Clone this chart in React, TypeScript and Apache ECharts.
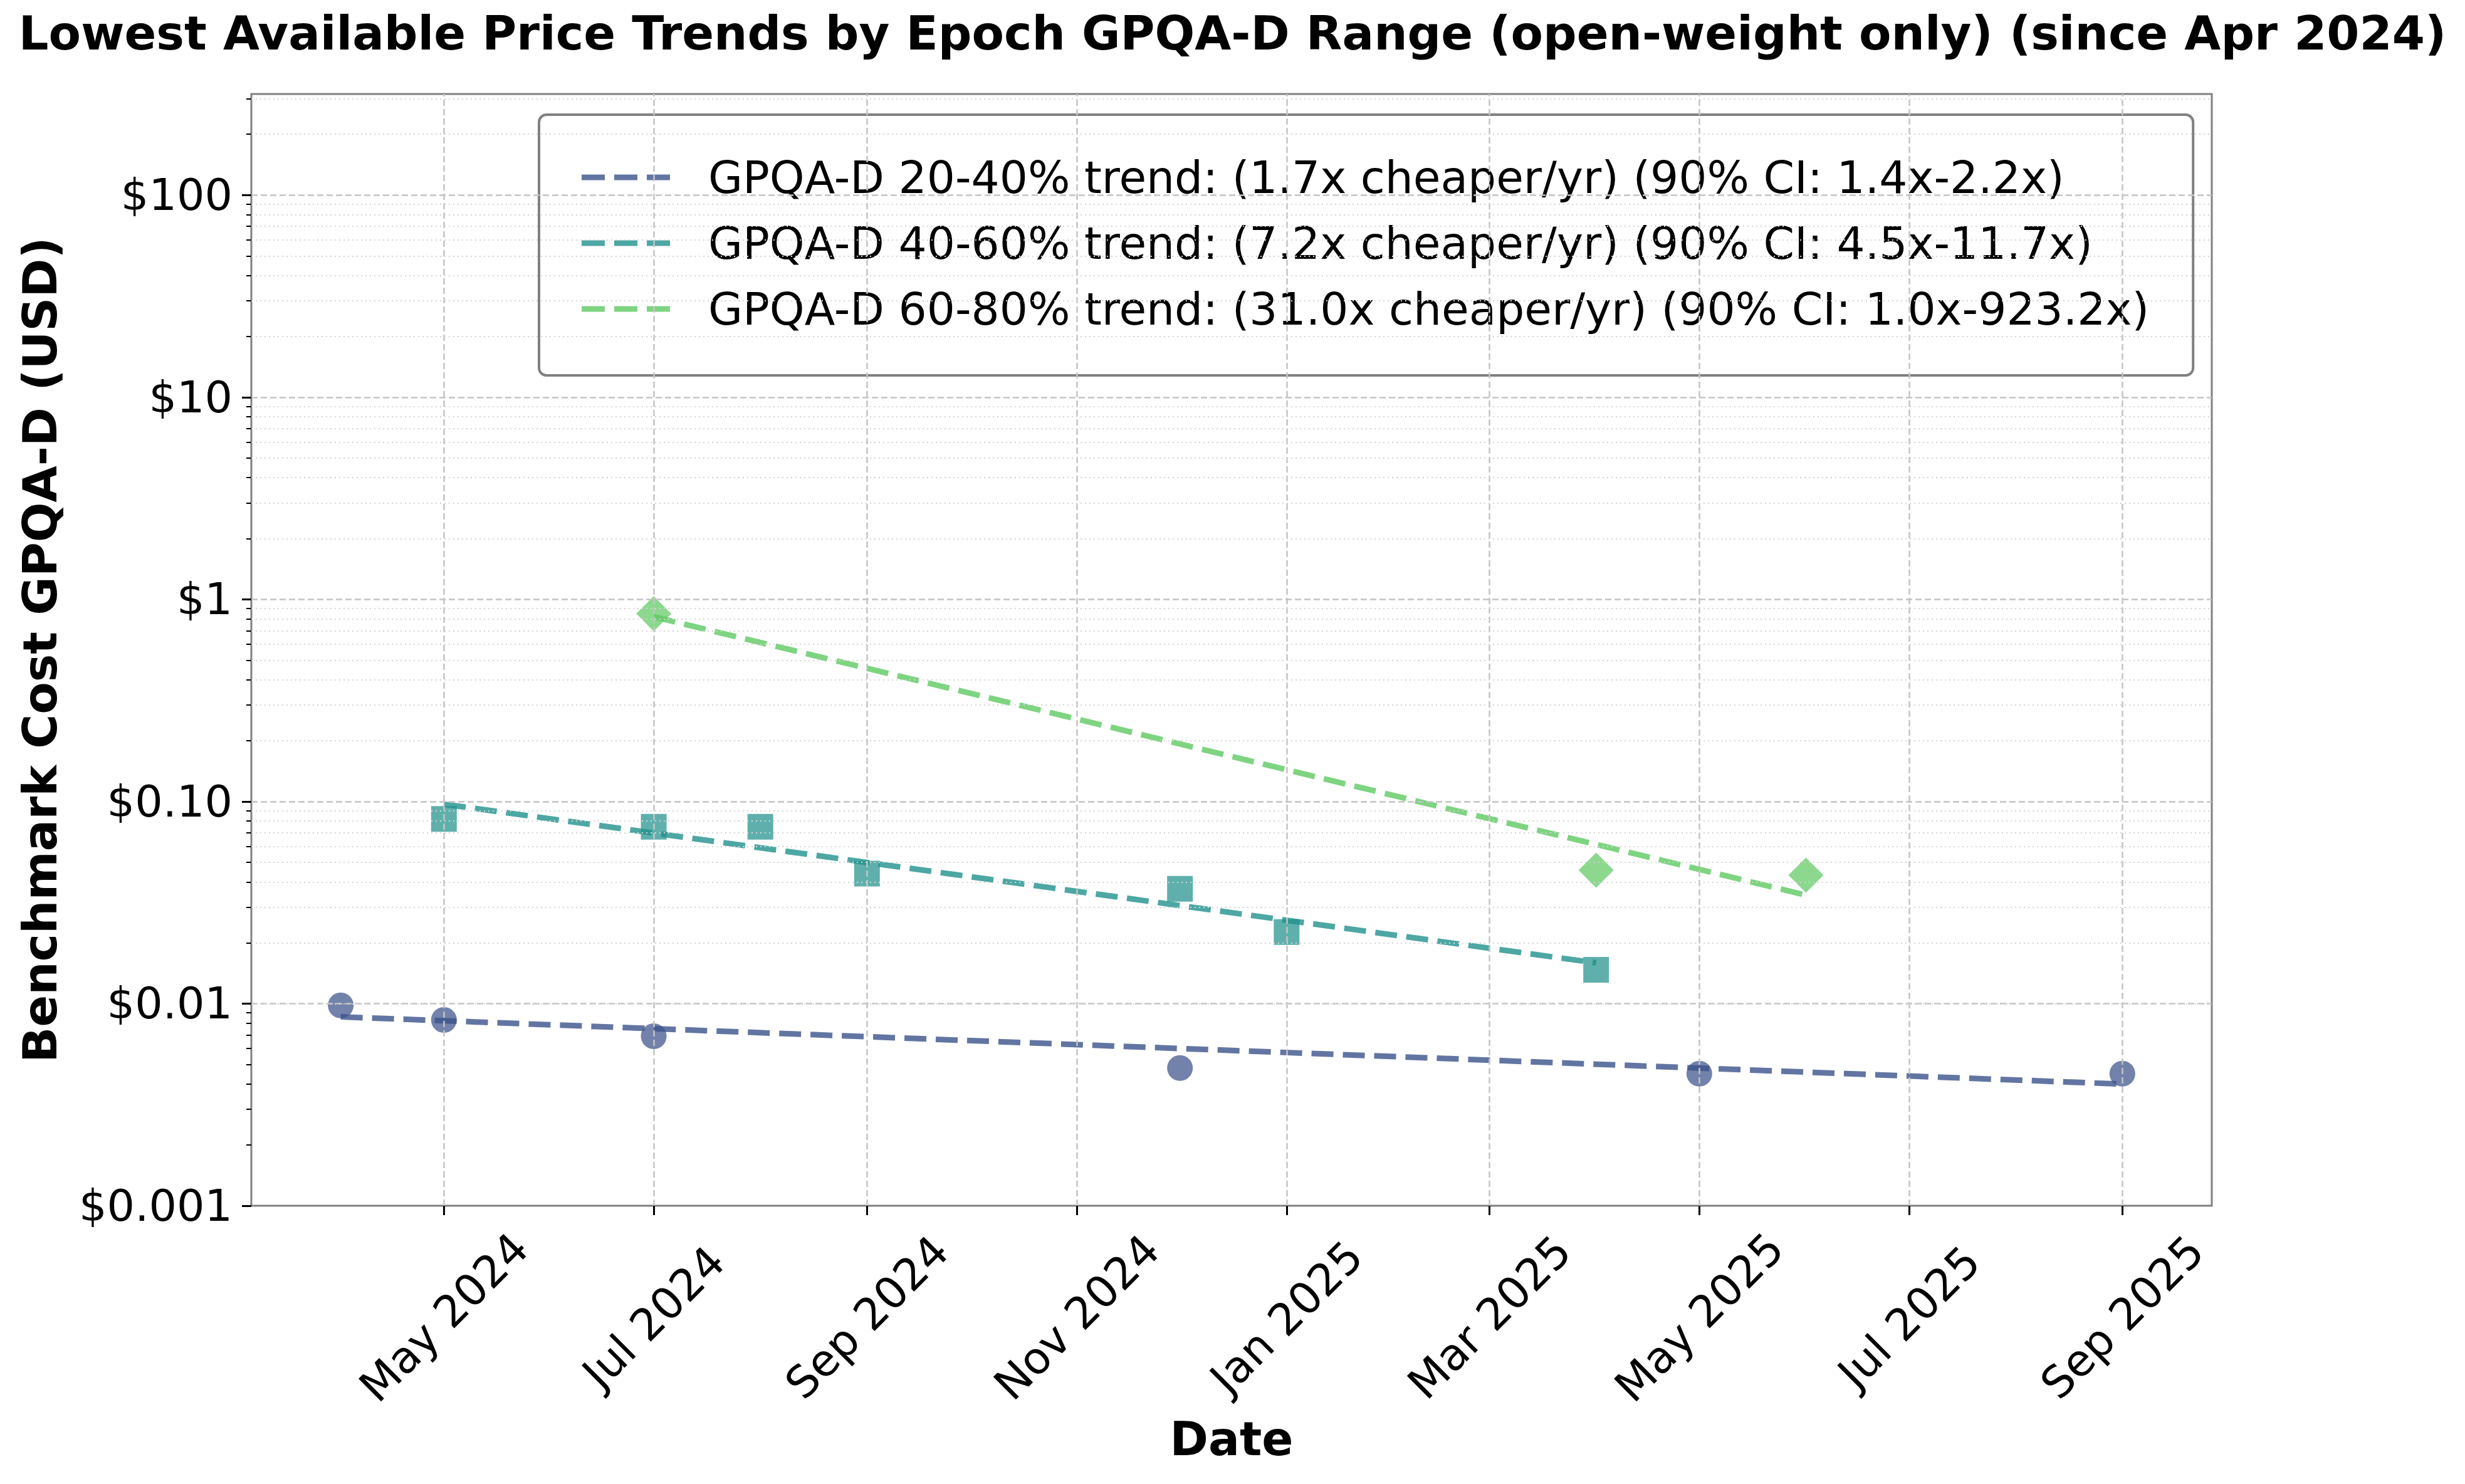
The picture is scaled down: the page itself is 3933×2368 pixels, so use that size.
import React, { useEffect, useRef } from "react";
import * as echarts from "echarts";

const TITLE = "Lowest Available Price Trends by Epoch GPQA-D Range (open-weight only) (since Apr 2024)";
const X_NAME = "Date";
const Y_NAME = "Benchmark Cost GPQA-D (USD)";

const X_MIN_DATE = "2024-03-06";
const X_MAX_DATE = "2025-09-27";
const Y_MIN = 0.001;
const Y_MAX = 316.23;

const X_TICK_DATES = ["2024-05-01", "2024-07-01", "2024-09-01", "2024-11-01", "2025-01-01", "2025-03-01", "2025-05-01", "2025-07-01", "2025-09-01"];
const X_TICK_LABELS = ["May 2024", "Jul 2024", "Sep 2024", "Nov 2024", "Jan 2025", "Mar 2025", "May 2025", "Jul 2025", "Sep 2025"];
const Y_TICK_VALUES = [0.001, 0.01, 0.1, 1, 10, 100];
const Y_TICK_LABELS = ["$0.001", "$0.01", "$0.10", "$1", "$10", "$100"];
const Y_MINOR_VALUES = [
  0.002, 0.003, 0.004, 0.005, 0.006, 0.007, 0.008, 0.009,
  0.02, 0.03, 0.04, 0.05, 0.06, 0.07, 0.08, 0.09,
  0.2, 0.3, 0.4, 0.5, 0.6, 0.7, 0.8, 0.9,
  2, 3, 4, 5, 6, 7, 8, 9,
  20, 30, 40, 50, 60, 70, 80, 90,
  200, 300,
];

// Points: GPQA-D 20-40%
const DATES_20_40 = ["2024-04-01", "2024-05-01", "2024-07-01", "2024-12-01", "2025-05-01", "2025-09-01"];
const COST_20_40 = [0.0098, 0.0083, 0.0069, 0.0048, 0.0045, 0.0045];
// Points: GPQA-D 40-60%
const DATES_40_60 = ["2024-05-01", "2024-07-01", "2024-08-01", "2024-09-01", "2024-12-01", "2025-01-01", "2025-04-01"];
const COST_40_60 = [0.082, 0.075, 0.075, 0.044, 0.037, 0.0226, 0.0147];
// Points: GPQA-D 60-80%
const DATES_60_80 = ["2024-07-01", "2025-04-01", "2025-06-01"];
const COST_60_80 = [0.85, 0.0457, 0.0432];

// Trend lines (endpoints)
const TREND_DATES_20_40 = ["2024-04-01", "2025-09-01"];
const TREND_COST_20_40 = [0.0086, 0.004];
const TREND_DATES_40_60 = ["2024-05-01", "2025-04-01"];
const TREND_COST_40_60 = [0.097, 0.0159];
const TREND_DATES_60_80 = ["2024-07-01", "2025-06-01"];
const TREND_COST_60_80 = [0.82, 0.0344];

const LEGEND_NAMES = [
  "GPQA-D 20-40% trend: (1.7x cheaper/yr) (90% CI: 1.4x-2.2x)",
  "GPQA-D 40-60% trend: (7.2x cheaper/yr) (90% CI: 4.5x-11.7x)",
  "GPQA-D 60-80% trend: (31.0x cheaper/yr) (90% CI: 1.0x-923.2x)",
];

const C1 = "59,82,139";
const C2 = "33,145,140";
const C3 = "94,201,98";

const FONT = "DejaVu Sans";

const ts = (d: string) => new Date(d + "T00:00:00Z").getTime();
const pairs = (dates: string[], vals: number[]) => dates.map((d, i) => [ts(d), vals[i]]);

export default function App() {
  const ref = useRef<HTMLDivElement>(null);
  useEffect(() => {
    document.body.style.margin = "0";
    if (!ref.current) return;
    const chart = echarts.init(ref.current, undefined, { renderer: "svg" });
    const xTicks = X_TICK_DATES.map(ts);

    const gridLines: any[] = [];
    xTicks.forEach((t) =>
      gridLines.push({ xAxis: t, lineStyle: { color: "#c4c4c4", width: 2.5, type: [10, 5] } })
    );
    Y_TICK_VALUES.forEach((v) =>
      gridLines.push({ yAxis: v, lineStyle: { color: "#c4c4c4", width: 2.5, type: [10, 5] } })
    );
    Y_MINOR_VALUES.forEach((v) =>
      gridLines.push({ yAxis: v, lineStyle: { color: "#d4d4d4", width: 2, type: [2, 5] } })
    );

    const scatter = (name: string, data: any[], symbol: string, size: number, rgb: string) => ({
      type: "scatter",
      name,
      data,
      symbol,
      symbolSize: size,
      z: 3,
      itemStyle: { color: `rgba(${rgb},0.9)` },
      silent: true,
    });
    const trend = (name: string, data: any[], rgb: string) => ({
      type: "line",
      name,
      data,
      symbol: "none",
      z: 4,
      lineStyle: { color: `rgba(${rgb},0.8)`, width: 9, type: [35, 15] },
      itemStyle: { color: `rgba(${rgb},0.8)` },
      silent: true,
    });

    const dashIcon = "path://M0,0h37v9h-37zM52,0h37v9h-37zM104,0h37v9h-37z";

    chart.setOption({
      animation: false,
      backgroundColor: "#ffffff",
      textStyle: { fontFamily: FONT },
      title: {
        text: TITLE,
        left: "center",
        top: 10,
        textStyle: { fontFamily: FONT, fontSize: 75, fontWeight: "bold", color: "#000" },
      },
      grid: {
        left: 401,
        top: 150,
        width: 3128,
        height: 1774,
        show: true,
        borderColor: "#808080",
        borderWidth: 3,
        backgroundColor: "transparent",
      },
      legend: {
        orient: "vertical",
        left: 860,
        top: 183,
        align: "left",
        selectedMode: false,
        data: LEGEND_NAMES.map((n, i) => ({
          name: n,
          icon: dashIcon,
          itemStyle: { color: `rgba(${[C1, C2, C3][i]},0.8)`, borderWidth: 0 },
        })),
        itemWidth: 141,
        itemHeight: 9,
        itemGap: 25,
        padding: [60, 70, 66, 68],
        backgroundColor: "rgba(255,255,255,0.8)",
        borderColor: "#808080",
        borderWidth: 4,
        borderRadius: 12,
        itemStyle: { borderWidth: 0 },
        textStyle: { fontFamily: FONT, fontSize: 71, color: "#000", lineHeight: 80, padding: [0, 0, 0, 56] },
      },
      xAxis: {
        type: "value",
        min: ts(X_MIN_DATE),
        max: ts(X_MAX_DATE),
        name: X_NAME,
        nameLocation: "middle",
        nameGap: 335,
        nameTextStyle: { fontFamily: FONT, fontSize: 74, fontWeight: "bold", color: "#000" },
        axisLine: { show: false },
        splitLine: { show: false },
        axisTick: {
          show: true,
          customValues: xTicks,
          length: 15,
          lineStyle: { color: "#000", width: 3 },
        },
        axisLabel: {
          customValues: xTicks,
          rotate: 45,
          align: "center",
          verticalAlign: "middle",
          margin: 178,
          fontFamily: FONT,
          fontSize: 70,
          color: "#000",
          formatter: (v: number) => {
            const i = xTicks.indexOf(v);
            return i >= 0 ? X_TICK_LABELS[i] : "";
          },
        },
      },
      yAxis: [
        {
          type: "log",
          logBase: 10,
          min: Y_MIN,
          max: Y_MAX,
          name: Y_NAME,
          nameLocation: "middle",
          nameGap: 300,
          nameTextStyle: { fontFamily: FONT, fontSize: 75, fontWeight: "bold", color: "#000" },
          axisLine: { show: false },
          splitLine: { show: false },
          minorTick: { show: false },
          axisTick: {
            show: true,
            customValues: Y_TICK_VALUES,
            length: 15,
            lineStyle: { color: "#000", width: 3 },
          },
          axisLabel: {
            customValues: Y_TICK_VALUES,
            margin: 30,
            fontFamily: FONT,
            fontSize: 70,
            color: "#000",
            formatter: (v: number) => {
              let best = 0;
              let bd = Infinity;
              Y_TICK_VALUES.forEach((t, i) => {
                const d = Math.abs(Math.log10(t) - Math.log10(v));
                if (d < bd) {
                  bd = d;
                  best = i;
                }
              });
              return bd < 0.01 ? Y_TICK_LABELS[best] : "";
            },
          },
        },
        {
          type: "log",
          logBase: 10,
          min: Y_MIN,
          max: Y_MAX,
          position: "left",
          axisLine: { show: false },
          splitLine: { show: false },
          axisLabel: { show: false },
          axisTick: {
            show: true,
            customValues: Y_MINOR_VALUES,
            length: 8,
            lineStyle: { color: "#000", width: 2 },
          },
        },
      ],
      series: [
        {
          type: "line",
          name: "grid",
          data: [],
          z: 1,
          silent: true,
          markLine: {
            silent: true,
            symbol: ["none", "none"],
            label: { show: false },
            animation: false,
            data: gridLines,
          },
        },
        scatter("GPQA-D 20-40%", pairs(DATES_20_40, COST_20_40), "circle", 41, C1),
        scatter("GPQA-D 40-60%", pairs(DATES_40_60, COST_40_60), "rect", 41, C2),
        scatter("GPQA-D 60-80%", pairs(DATES_60_80, COST_60_80), "diamond", 56, C3),
        trend(LEGEND_NAMES[0], pairs(TREND_DATES_20_40, TREND_COST_20_40), C1),
        trend(LEGEND_NAMES[1], pairs(TREND_DATES_40_60, TREND_COST_40_60), C2),
        trend(LEGEND_NAMES[2], pairs(TREND_DATES_60_80, TREND_COST_60_80), C3),
      ],
    });
    return () => chart.dispose();
  }, []);
  return <div ref={ref} style={{ width: 3933, height: 2368 }} />;
}
